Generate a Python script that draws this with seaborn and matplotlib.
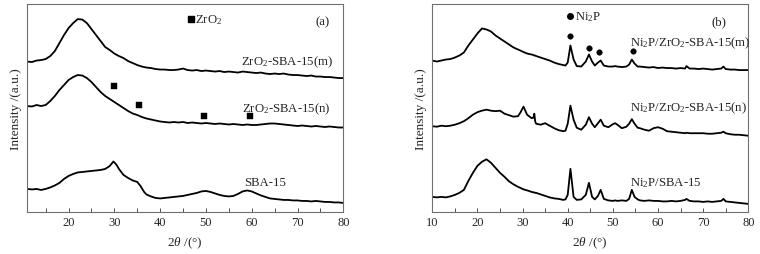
import numpy as np
import pandas as pd
import matplotlib
matplotlib.use("Agg")
import matplotlib.pyplot as plt
from matplotlib.ticker import MultipleLocator
import seaborn as sns

# ---- panel (a): ZrO2-SBA-15 supports ----
theta_a = list(range(11, 81))

zro2_m = [150.5, 150, 151.5, 152, 153, 156, 161, 169, 177, 184,
          189, 193, 192.5, 189, 183, 177, 171, 165, 162, 158.5,
          156, 154, 151, 149, 147, 145.5, 144.5, 144, 143, 142.5,
          142.5, 142, 142, 142.5, 143.5, 142, 141.5, 142, 141, 141.5,
          141, 140.5, 141, 140, 140.5, 140, 139.5, 140.5, 140, 139.5,
          139, 139.5, 138.5, 138, 138.5, 138, 138.5, 137.5, 137, 137,
          136.5, 136, 136.5, 135.5, 135.5, 135, 135, 134.5, 134, 134]

zro2_n = [106, 105.5, 107, 106, 107, 111, 116, 122, 127, 132,
          135, 137, 136.5, 134, 130, 125, 120, 116, 113, 110,
          107, 104, 101, 98.5, 97, 95, 93.5, 92.5, 91.5, 90.5,
          90, 89.5, 90, 89.5, 90, 89, 89.5, 89, 88.5, 89,
          88.5, 88, 88.5, 88, 87.5, 88, 87.5, 87, 87.5, 87,
          87, 87.5, 88, 88.5, 88.5, 88, 87.5, 87, 86.5, 86,
          86.5, 86, 85.5, 86, 85.5, 85, 85.5, 85, 84.5, 84.5]

theta_sba = [11, 12, 13, 14, 15, 16, 17, 18, 19, 20, 21, 22, 23, 24, 25, 26, 27, 28, 29,
             29.8, 30.5, 31, 32, 33, 34, 35, 35.7, 36.5, 37, 38, 39, 40, 41, 42, 43, 44, 45,
             46, 47, 48, 49, 50, 51, 52, 53, 54, 55, 56, 57, 58, 59, 60, 61, 62, 63, 64,
             65, 66, 67, 68, 69, 70, 71, 72, 73, 74, 75, 76, 77, 78, 79, 80]
sba15 = [23, 22.5, 23, 22, 23, 24.5, 26.5, 29, 33, 36, 38, 39.5, 40, 40.5, 41, 41.5, 42, 43, 46,
         50.5, 47, 43, 37, 34, 31.5, 30, 26, 20, 17.5, 15.5, 14, 13.5, 14, 14.5, 15, 15.5, 16,
         17, 18, 19, 20.5, 21, 20, 18.5, 17, 16, 15.5, 16, 18, 20.5, 21.5, 20.5, 18.5, 16.5, 15, 13.5,
         13, 12.5, 12, 12, 11.5, 11.5, 11, 11, 10.5, 11, 10.5, 10, 10, 9.5, 9.5, 9]

zro2_peaks = [30.0, 35.4, 49.6, 59.6]
zro2_peak_h = [126.5, 107, 96, 96]

# ---- panel (b): Ni2P catalysts ----
theta_b = [10, 11, 12, 13, 14, 15, 16, 17, 18, 19, 20, 21, 22, 23, 24, 25, 26, 27, 28, 29,
           29.5, 30.2, 31, 32, 32.4, 32.6, 32.8, 33,
           34, 35, 36, 37, 38, 39,
           39.5, 40, 40.6, 41.3, 42, 43, 44, 44.7, 45.4, 46, 46.7, 47.3, 48, 49, 50, 50.5,
           51, 52, 53, 53.6, 54.2, 54.8, 55.5,
           56, 57, 58, 59, 60, 61, 62, 63, 64, 65, 66,
           66.3,
           67, 68, 69, 70, 71, 72, 73, 74,
           74.5,
           75, 76, 77, 78, 79, 80]

ni2p_zro2_m = [151, 150, 151, 152, 152.5, 154, 156, 159, 166, 172, 178, 183, 182, 180, 176, 173, 170, 167, 164, 162,
               161, 159.5, 158, 157, 156.5, 156, 156, 155.5,
               154, 152.5, 151, 149, 147.5, 146.5,
               146, 149, 166, 152, 145.5, 145, 150, 157, 150, 146, 149, 151, 146, 145, 145, 145.5,
               145, 144.5, 145, 147, 152, 148, 145,
               145, 144.5, 144, 144.5, 143.5, 144, 143.5, 143.5, 143, 143.5, 143,
               145.5,
               143, 143, 142.5, 143, 142.5, 142, 142.5, 143,
               145,
               142.5, 142, 142, 141.5, 141.5, 141.5]

ni2p_zro2_n = [85.5, 85, 86, 85.5, 86, 87, 88.5, 90.5, 93.5, 97, 99.5, 101, 102, 101, 100.5, 101, 98, 96.5, 95, 95.5,
               99, 105, 97, 93.5, 94, 98, 90, 88,
               87, 88.5, 86, 83.5, 81.5, 80.5,
               81, 88, 106, 92, 84, 82, 87, 94.5, 88, 84.5, 88.5, 92, 86, 84.5, 87.5, 88.5,
               87, 83.5, 85, 88, 92.5, 88, 84,
               83.5, 82, 81, 83.5, 84.5, 83, 80.5, 80, 79.5, 79, 78.5,
               79,
               78.5, 78.5, 78.5, 78.5, 78, 78, 78.5, 79,
               80,
               78.5, 77.5, 77, 77, 76.5, 76]

ni2p_sba = [15, 14.5, 15, 14.5, 15.5, 17, 19, 22, 31, 39, 46, 50, 52.5, 49, 44, 39, 35, 30.5, 27.5, 25,
            24, 22.5, 21.5, 20, 19.5, 19.5, 19, 19,
            17.5, 16, 14.5, 13.5, 13, 12,
            12.5, 17, 43, 15, 12, 12.5, 17, 29, 15, 12.5, 16, 22, 13, 11.5, 11, 11.5,
            11, 11.5, 11, 13, 22, 15, 12.5,
            11.5, 11, 11.5, 11, 11, 10.5, 10.5, 11, 10.5, 11, 12,
            13,
            11, 10.5, 10.5, 10, 10.5, 10, 10.5, 11,
            13,
            10.5, 10, 9.5, 9, 8.5, 8]

ni2p_peaks = [40.5, 44.8, 47.0, 54.4]
ni2p_peak_h = [175, 164, 160, 160.5]

df_a = pd.concat([
    pd.DataFrame({"theta": theta_a, "I": zro2_m, "s": "m"}),
    pd.DataFrame({"theta": theta_a, "I": zro2_n, "s": "n"}),
    pd.DataFrame({"theta": theta_sba, "I": sba15, "s": "sba"}),
])
df_b = pd.concat([
    pd.DataFrame({"theta": theta_b, "I": ni2p_zro2_m, "s": "m"}),
    pd.DataFrame({"theta": theta_b, "I": ni2p_zro2_n, "s": "n"}),
    pd.DataFrame({"theta": theta_b, "I": ni2p_sba, "s": "sba"}),
])

sns.set_style("white")
plt.rcParams['font.family'] = ['Liberation Serif', 'DejaVu Serif']
plt.rcParams['mathtext.fontset'] = 'custom'
plt.rcParams['mathtext.rm'] = 'Liberation Serif'
plt.rcParams['mathtext.it'] = 'Liberation Serif:italic'

fs = 9.2

fig = plt.figure(figsize=(7.6, 2.55), dpi=100)
ax1 = fig.add_axes([0.036, 0.165, 0.4157, 0.815])
ax2 = fig.add_axes([0.5688, 0.165, 0.4158, 0.815])

for ax, df in [(ax1, df_a), (ax2, df_b)]:
    sns.lineplot(data=df, x="theta", y="I", units="s", estimator=None,
                 color="black", lw=1.3, ax=ax)
    for sp in ax.spines.values():
        sp.set_color("#707070")
        sp.set_linewidth(0.8)
    ax.set_yticks([])
    ax.xaxis.set_major_locator(MultipleLocator(10))
    ax.xaxis.set_minor_locator(MultipleLocator(5))
    ax.tick_params(axis="x", which="both", direction="in", length=3, width=0.7,
                   color="#505050", labelsize=9, pad=3, bottom=True)
    ax.set_xlabel(r"$\mathit{2\theta}$ /(°)", fontsize=9.5, labelpad=5)
    ax.set_ylabel("Intensity /(a.u.)", fontsize=9.5, labelpad=4)

ax1.set_xlim(11, 80)
ax1.set_ylim(0, 208)
ax1.set_xticks(range(20, 81, 10))
ax2.set_xlim(10, 80)
ax2.set_ylim(0, 207.3)

# panel (a) annotations
sns.scatterplot(x=zro2_peaks, y=zro2_peak_h, marker="s", s=14, color="black",
                edgecolor="black", ax=ax1)
ax1.scatter([46.7], [193], marker="s", s=14, color="black")
ax1.text(47.6, 193, "ZrO$_2$", fontsize=fs, va="center")
ax1.text(75.5, 191, "(a)", fontsize=fs, ha="center", va="center")
ax1.text(77.8, 151, "ZrO$_2$-SBA-15(m)", fontsize=fs, ha="right", va="center")
ax1.text(77.3, 104, "ZrO$_2$-SBA-15(n)", fontsize=fs, ha="right", va="center")
ax1.text(63, 29.5, "SBA-15", fontsize=fs, ha="center", va="center")

# panel (b) annotations
sns.scatterplot(x=ni2p_peaks, y=ni2p_peak_h, marker="o", s=16, color="black",
                edgecolor="black", ax=ax2)
ax2.scatter([40.5], [195.6], marker="o", s=16, color="black")
ax2.text(41.6, 195.6, "Ni$_2$P", fontsize=fs, va="center")
ax2.text(73.6, 190.6, "(b)", fontsize=fs, ha="center", va="center")
ax2.text(53.7, 169.6, "Ni$_2$P/ZrO$_2$-SBA-15(m)", fontsize=fs, ha="left", va="center")
ax2.text(53.7, 104.6, "Ni$_2$P/ZrO$_2$-SBA-15(n)", fontsize=fs, ha="left", va="center")
ax2.text(53.7, 29.6, "Ni$_2$P/SBA-15", fontsize=fs, ha="left", va="center")

for ax in (ax1, ax2):
    if ax.get_legend() is not None:
        ax.get_legend().remove()

fig.savefig("out.png", dpi=100)
